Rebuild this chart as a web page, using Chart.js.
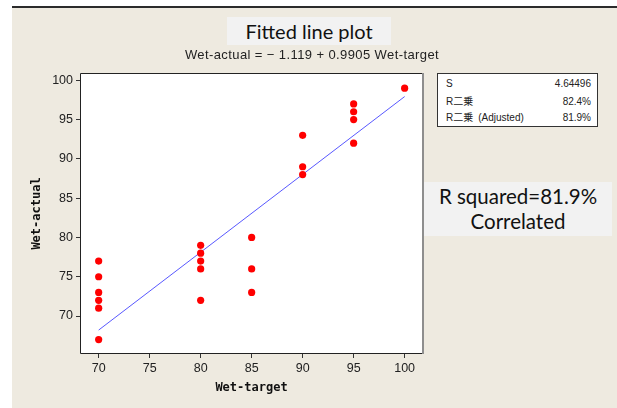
<!DOCTYPE html>
<html>
<head>
<meta charset="utf-8">
<script src="https://cdn.jsdelivr.net/npm/chart.js@4/dist/chart.umd.min.js"></script>
<style>
  html, body { margin:0; padding:0; background:#fff; }
  #wrap { position:relative; width:617px; height:408px; overflow:hidden; }
  #c { position:absolute; left:0; top:0; }
  .ov { position:absolute; color:#111; white-space:nowrap; }
  #title { left:227px; top:17px; width:164px; height:28px; background:#F2F2F2; text-align:center;
           font:20px Lato, "Open Sans", sans-serif; line-height:28px; }
  #sub { left:130px; top:47px; width:364px; text-align:center; font:13px "Liberation Sans", sans-serif; letter-spacing:0.4px; line-height:16px; color:#222; }
  #stats { left:437px; top:73px; width:159px; height:52px; border:1px solid #333; background:#fff;
           font:10px "Liberation Sans", "Noto Sans CJK JP", sans-serif; color:#222; }
  .row { position:absolute; left:8px; right:6px; height:14px; line-height:14px; }
  .row .v { position:absolute; right:0; top:0; }
  #note { left:424px; top:182px; width:188px; height:54px; background:#F2F2F2; text-align:center;
          font:20.5px Lato, "Open Sans", sans-serif; line-height:25px; padding-top:2px; box-sizing:border-box; }
</style>
</head>
<body>
<div id="wrap">
  <canvas id="c" width="617" height="408"></canvas>
  <div class="ov" id="title"></div>
  <div class="ov" id="sub"></div>
  <div class="ov" id="stats"></div>
  <div class="ov" id="note"></div>
</div>
<script>
// ---- data ----
const wetTarget = [70, 70, 70, 70, 70, 70, 80, 80, 80, 80, 80, 85, 85, 85, 90, 90, 90, 95, 95, 95, 95, 100];
const wetActual = [77, 75, 73, 72, 71, 67, 79, 78, 77, 76, 72, 80, 76, 73, 93, 89, 88, 97, 96, 95, 92, 99];
const fitIntercept = -1.119;
const fitSlope = 0.9905;
const fitRange = [70, 100];
const xTicks = [70, 75, 80, 85, 90, 95, 100];
const yTicks = [70, 75, 80, 85, 90, 95, 100];
const xLimits = [68.17, 101.8];
const yLimits = [65.17, 100.93];
const statLabels = ['S', 'R二乗', 'R二乗\u2002(Adjusted)'];
const statValues = ['4.64496', '82.4%', '81.9%'];
const chartTitle = 'Fitted line plot';
const equationText = 'Wet-actual = \u2212 1.119 + 0.9905 Wet-target';
const noteLines = ['R squared=81.9%', 'Correlated'];
const xTitle = 'Wet-target';
const yTitle = 'Wet-actual';

// ---- text overlays ----
document.getElementById('title').textContent = chartTitle;
document.getElementById('sub').textContent = equationText;
document.getElementById('note').innerHTML = noteLines.map(t => '<div>' + t + '</div>').join('');
const statsEl = document.getElementById('stats');
const rowTops = [3, 21, 37];
statLabels.forEach((lab, i) => {
  const r = document.createElement('div');
  r.className = 'row';
  r.style.top = rowTops[i] + 'px';
  const l = document.createElement('span'); l.textContent = lab;
  const v = document.createElement('span'); v.className = 'v'; v.textContent = statValues[i];
  r.appendChild(l); r.appendChild(v);
  statsEl.appendChild(r);
});

// ---- chart ----
const points = wetTarget.map((x, i) => ({ x: x, y: wetActual[i] }));
const fitLine = fitRange.map(x => ({ x: x, y: fitIntercept + fitSlope * x }));

const framePlugin = {
  id: 'frame',
  beforeDraw(chart) {
    const ctx = chart.ctx, a = chart.chartArea;
    ctx.save();
    ctx.fillStyle = '#ffffff';
    ctx.fillRect(0, 0, chart.width, chart.height);
    ctx.fillStyle = '#EEEAE0';
    ctx.fillRect(12, 7, chart.width - 12, chart.height - 7);
    ctx.fillStyle = '#2b2b2b';
    ctx.fillRect(12, 6, chart.width - 12, 2);
    ctx.fillStyle = '#ffffff';
    ctx.fillRect(a.left, a.top, a.right - a.left, a.bottom - a.top);
    ctx.restore();
  },
  afterDraw(chart) {
    const ctx = chart.ctx, a = chart.chartArea;
    ctx.save();
    ctx.strokeStyle = '#222';
    ctx.lineWidth = 1;
    ctx.beginPath();
    ctx.moveTo(a.right, a.top + 0.5);
    ctx.lineTo(a.left + 0.5, a.top + 0.5);
    ctx.lineTo(a.left + 0.5, a.bottom - 0.5);
    ctx.lineTo(a.right, a.bottom - 0.5);
    ctx.stroke();
    ctx.fillStyle = '#8e8e8e';
    ctx.fillRect(a.right - 1, a.top, 2, a.bottom - a.top);
    ctx.restore();
  }
};

const tickFont = { family: '"Liberation Sans", Arial, sans-serif', size: 12.5 };
const titleFont = { family: '"DejaVu Sans Mono", monospace', size: 12, weight: 'bold' };

new Chart(document.getElementById('c'), {
  type: 'scatter',
  data: {
    datasets: [
      {
        label: 'Wet-actual',
        data: points,
        backgroundColor: '#ff0000',
        borderColor: '#ff0000',
        borderWidth: 0,
        pointRadius: 3.6,
        pointHoverRadius: 3.6
      },
      {
        label: 'Fit',
        data: fitLine,
        showLine: true,
        borderColor: 'rgba(70,70,255,0.9)',
        borderWidth: 1,
        pointRadius: 0,
        fill: false
      }
    ]
  },
  options: {
    responsive: false,
    animation: false,
    events: [],
    layout: { padding: { left: 0, top: 73, right: 194, bottom: 0 } },
    plugins: { legend: { display: false }, tooltip: { enabled: false } },
    scales: {
      x: {
        type: 'linear',
        min: xLimits[0], max: xLimits[1],
        afterBuildTicks: s => { s.ticks = xTicks.map(v => ({ value: v })); },
        afterFit: s => { s.height = 54; },
        ticks: { font: tickFont, color: '#222', padding: 3, maxRotation: 0, autoSkip: false },
        grid: { display: true, drawOnChartArea: false, drawTicks: true, tickLength: 4, color: '#333' },
        border: { display: false },
        title: { display: true, text: xTitle, font: titleFont, color: '#111', padding: { top: 0, bottom: 13 } }
      },
      y: {
        type: 'linear',
        min: yLimits[0], max: yLimits[1],
        afterBuildTicks: s => { s.ticks = yTicks.map(v => ({ value: v })); },
        afterFit: s => { s.width = 80; },
        ticks: { font: tickFont, color: '#222', padding: 3, autoSkip: false },
        grid: { display: true, drawOnChartArea: false, drawTicks: true, tickLength: 4, color: '#333' },
        border: { display: false },
        title: { display: true, text: yTitle, font: titleFont, color: '#111', padding: { top: 30, bottom: 0 } }
      }
    }
  },
  plugins: [framePlugin]
});
</script>
</body>
</html>
